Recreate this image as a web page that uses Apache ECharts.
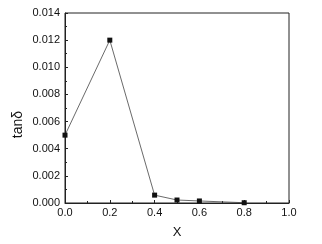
<!DOCTYPE html>
<html><head><meta charset="utf-8">
<script src="https://cdn.jsdelivr.net/npm/echarts@6/dist/echarts.min.js"></script>
<style>html,body{margin:0;padding:0;background:#fff}#c{width:322px;height:244px}</style>
</head><body><div id="c"></div>
<script>
const xValues = [0.0, 0.2, 0.4, 0.5, 0.6, 0.8];
const tanDelta = [0.0050, 0.0120, 0.00058, 0.00022, 0.00015, 0.00002];
const xTicks = [0.0, 0.2, 0.4, 0.6, 0.8, 1.0];
const yTicks = [0.000, 0.002, 0.004, 0.006, 0.008, 0.010, 0.012, 0.014];
const xTitle = 'X';
const yTitle = 'tanδ';

const chart = echarts.init(document.getElementById('c'), null, {renderer: 'canvas'});
const font = 'Liberation Sans, Arial, sans-serif';
chart.setOption({
  animation: false,
  grid: {left: 65, right: 33, top: 13, bottom: 38, show: true, borderColor: '#222', borderWidth: 1, backgroundColor: 'transparent'},
  graphic: [{
    type: 'text', left: 11, top: 111, rotation: Math.PI / 2,
    style: {text: yTitle, font: '14px ' + font, fill: '#111'}
  }],
  xAxis: {
    type: 'value', min: 0, max: 1, interval: 0.2,
    name: xTitle, nameLocation: 'middle', nameGap: 23,
    nameTextStyle: {fontFamily: font, fontSize: 13, color: '#111'},
    axisLine: {show: true, onZero: false, lineStyle: {color: '#222', width: 1}},
    axisTick: {show: true, inside: true, length: 3, lineStyle: {color: '#222'}},
    minorTick: {show: true, splitNumber: 2, length: 2, lineStyle: {color: '#222'}},
    splitLine: {show: false},
    axisLabel: {fontFamily: font, fontSize: 11, color: '#111', margin: 4,
      formatter: v => xTicks.find(t => Math.abs(t - v) < 1e-9) !== undefined ? v.toFixed(1) : ''}
  },
  yAxis: {
    type: 'value', min: 0, max: 0.014, interval: 0.002,
    axisLine: {show: true, onZero: false, lineStyle: {color: '#222', width: 1}},
    axisTick: {show: true, inside: true, length: 3, lineStyle: {color: '#222'}},
    minorTick: {show: true, splitNumber: 2, length: 2, lineStyle: {color: '#222'}},
    splitLine: {show: false},
    axisLabel: {fontFamily: font, fontSize: 11, color: '#111', margin: 5,
      formatter: v => yTicks.find(t => Math.abs(t - v) < 1e-9) !== undefined ? v.toFixed(3) : ''}
  },
  series: [{
    type: 'line',
    data: xValues.map((x, i) => [x, tanDelta[i]]),
    symbol: 'rect', symbolSize: 5,
    itemStyle: {color: '#111'},
    lineStyle: {color: '#444', width: 0.8}
  }]
});
</script></body></html>
